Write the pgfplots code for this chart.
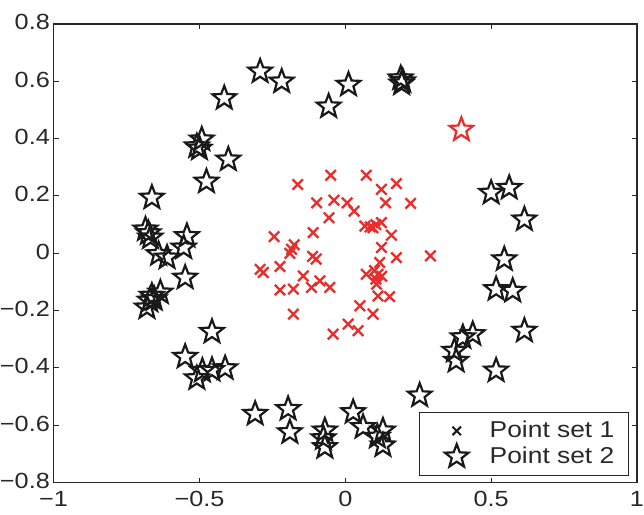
\documentclass[border=0pt]{standalone}
\usepackage{fontspec}
\setmainfont{Liberation Sans}[FakeStretch=1.15]
\usepackage{pgfplots}
\pgfplotsset{compat=1.18}
\definecolor{myred}{RGB}{232,45,45}
\definecolor{axgray}{RGB}{40,40,40}
\definecolor{stargray}{RGB}{25,25,25}

\pgfdeclareplotmark{pentagram}{%
  \pgfpathmoveto{\pgfpointpolar{90}{\pgfplotmarksize}}%
  \pgfpathlineto{\pgfpointpolar{126}{0.42\pgfplotmarksize}}%
  \pgfpathlineto{\pgfpointpolar{162}{\pgfplotmarksize}}%
  \pgfpathlineto{\pgfpointpolar{198}{0.42\pgfplotmarksize}}%
  \pgfpathlineto{\pgfpointpolar{234}{\pgfplotmarksize}}%
  \pgfpathlineto{\pgfpointpolar{270}{0.42\pgfplotmarksize}}%
  \pgfpathlineto{\pgfpointpolar{306}{\pgfplotmarksize}}%
  \pgfpathlineto{\pgfpointpolar{342}{0.42\pgfplotmarksize}}%
  \pgfpathlineto{\pgfpointpolar{18}{\pgfplotmarksize}}%
  \pgfpathlineto{\pgfpointpolar{54}{0.42\pgfplotmarksize}}%
  \pgfpathclose
  \pgfusepathqstroke
}

\begin{document}
\begin{tikzpicture}
\begin{axis}[
  scale only axis, width=292.5pt, height=230pt,
  xmin=-1, xmax=1, ymin=-0.8, ymax=0.8,
  xtick={-1,-0.5,0,0.5,1}, xticklabels={−1,−0.5,0,0.5,1},
  ytick={-0.8,-0.6,-0.4,-0.2,0,0.2,0.4,0.6,0.8},
  yticklabels={−0.8,−0.6,−0.4,−0.2,0,0.2,0.4,0.6,0.8},
  tick align=inside, xtick pos=both, ytick pos=both,
  major tick length=2.5pt,
  axis line style={axgray, line width=0.6pt},
  tick style={axgray, line width=0.5pt},
  ticklabel style={font=\fontsize{11}{13}\selectfont, text=axgray},
  yticklabel style={inner xsep=0pt, inner ysep=0pt, xshift=-1.7pt, yshift=0.8pt},
  xticklabel style={inner xsep=0pt, inner ysep=0pt, yshift=-4.3pt},
  legend style={at={(0.986,0.015)}, anchor=south east,
    font=\fontsize{11.5}{13}\selectfont, text=axgray,
    draw=axgray, line width=0.5pt, inner xsep=5pt, inner ysep=2.5pt,
    row sep=-1pt, cells={anchor=west}},
  legend image code/.code={\path (0pt,-5pt) (27pt,5pt); \draw[#1] plot coordinates {(13pt,0pt)};},
]
\addlegendimage{only marks, mark=x, stargray, mark size=3pt, line width=1pt}
\addlegendentry{Point set 1}
\addlegendimage{only marks, mark=pentagram, stargray, mark size=6.2pt, line width=1.1pt}
\addlegendentry{Point set 2}

% Point set 1 (red crosses)
\addplot[forget plot, only marks, mark=x, myred, mark size=3.7pt, line width=1.15pt] coordinates {
(-0.163,0.240) (-0.050,0.272) (0.072,0.272) (0.124,0.223) (0.175,0.243)
(0.138,0.176) (0.224,0.174) (-0.098,0.176) (-0.039,0.185) (0.006,0.176)
(0.030,0.147) (-0.056,0.124) (0.067,0.095) (0.095,0.089) (0.124,0.107)
(0.158,0.063) (-0.110,0.072) (-0.244,0.058) (-0.184,0.014) (0.124,0.020)
(0.175,-0.015) (0.292,-0.009) (-0.112,-0.011) (-0.224,-0.046) (-0.292,-0.056)
(-0.281,-0.067) (-0.144,-0.079) (-0.087,-0.096) (-0.053,-0.119) (-0.116,-0.119)
(-0.224,-0.128) (-0.178,-0.125) (0.112,-0.073) (0.072,-0.073) (0.107,-0.108)
(0.118,-0.032) (0.112,-0.149) (0.152,-0.151) (0.050,-0.183) (0.095,-0.212)
(-0.178,-0.212) (0.010,-0.247) (0.044,-0.270) (-0.042,-0.282)
(0.100,-0.060) (0.125,-0.080) (0.105,-0.090) (0.085,0.092) (0.105,0.100)
(-0.175,0.030) (-0.190,0.000) (-0.100,-0.020)
};

% Point set 2 (black stars)
\addplot[forget plot, only marks, mark=pentagram, stargray, mark size=6.2pt, line width=1.1pt] coordinates {
(-0.292,0.634) (-0.218,0.599) (-0.415,0.541) (-0.492,0.397) (-0.509,0.373)
(-0.500,0.365) (-0.401,0.327) (-0.476,0.250) (-0.663,0.194) (-0.057,0.512)
(0.011,0.588) (0.190,0.610) (0.197,0.600) (0.193,0.592)
(-0.685,0.083) (-0.675,0.070) (-0.668,0.055) (-0.640,-0.003) (-0.611,-0.015)
(-0.543,0.060) (-0.554,0.020) (-0.549,-0.085) (-0.663,-0.148) (-0.634,-0.137)
(-0.680,-0.189) (-0.670,-0.165) (-0.655,-0.160)
(-0.457,-0.274) (-0.549,-0.361) (-0.509,-0.436) (-0.490,-0.410) (-0.457,-0.407)
(-0.412,-0.401)
(-0.309,-0.560) (-0.196,-0.543) (-0.190,-0.624) (-0.070,-0.618) (-0.070,-0.676)
(-0.075,-0.645) (0.027,-0.554) (0.061,-0.606) (0.129,-0.618) (0.129,-0.670)
(0.110,-0.640) (0.255,-0.496)
(0.500,0.211) (0.562,0.228) (0.614,0.118) (0.545,-0.021) (0.517,-0.125)
(0.574,-0.131) (0.614,-0.270) (0.437,-0.282) (0.403,-0.293) (0.374,-0.340)
(0.380,-0.375) (0.517,-0.409)
};

% red star outlier
\addplot[forget plot, only marks, mark=pentagram, myred, mark size=6.2pt, line width=1.1pt] coordinates {
(0.398,0.431)
};
\end{axis}
\path ([yshift=12pt]current axis.north) ([yshift=-16pt]current axis.south);
\end{tikzpicture}
\end{document}
